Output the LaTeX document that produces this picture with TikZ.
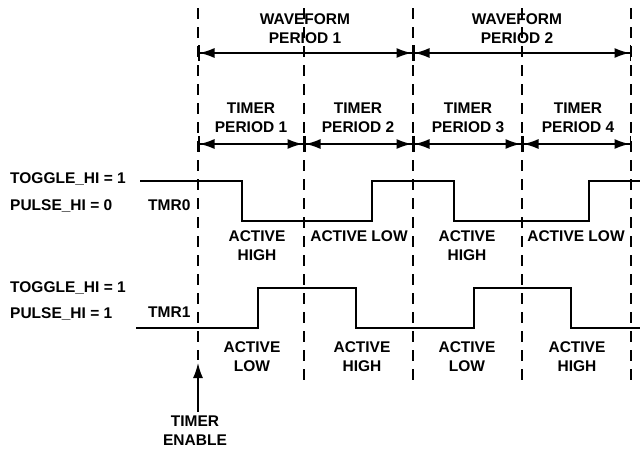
\documentclass[tikz,border=0pt]{standalone}
\usepackage{fontspec}
\setmainfont{Liberation Sans}
\usetikzlibrary{arrows.meta}
\begin{document}
\begin{tikzpicture}[x=1pt,y=-1pt,
  lbl/.style={font=\bfseries\fontsize{15.5}{19}\selectfont,inner sep=0pt,align=center,anchor=north},
  lft/.style={font=\bfseries\fontsize{15.5}{19}\selectfont,inner sep=0pt,anchor=north west},
  wave/.style={line width=1.6pt},
  guide/.style={line width=1.5pt,dash pattern=on 11pt off 8pt},
  span/.style={line width=1.5pt,{Bar[width=16pt,line width=1.5pt]Latex[length=15pt,width=10pt]}-{Latex[length=15pt,width=10pt]Bar[width=16pt,line width=1.5pt]}}]
\useasboundingbox (0,0) rectangle (640,450);
% guide coordinates
\foreach \n/\x in {a/198,b/304,c/413,d/522,e/631}{
  \coordinate (\n-top) at (\x,8);
  \coordinate (\n-w) at (\x,53);
  \coordinate (\n-t) at (\x,144);
}
\coordinate (a-bot) at (198,360);
\foreach \n/\x in {b/304,c/413,d/522,e/631}{\coordinate (\n-bot) at (\x,380);}
\foreach \n in {a,b,c,d,e}{\draw[guide] (\n-top) -- (\n-bot);}
% span arrows
\draw[span] (a-w) -- (c-w);
\draw[span] (c-w) -- (e-w);
\draw[span] (a-t) -- (b-t);
\draw[span] (b-t) -- (c-t);
\draw[span] (c-t) -- (d-t);
\draw[span] (d-t) -- (e-t);
% header labels
\node[lbl] (wp1) at (305,13) {WAVEFORM\\PERIOD 1};
\node[lbl] (wp2) at (517,13) {WAVEFORM\\PERIOD 2};
\node[lbl] (tp1) at (251,103) {TIMER\\PERIOD 1};
\node[lbl] (tp2) at (358,103) {TIMER\\PERIOD 2};
\node[lbl] (tp3) at (468,103) {TIMER\\PERIOD 3};
\node[lbl] (tp4) at (578,103) {TIMER\\PERIOD 4};
% left labels
\node[lft] (tg0) at (10,172) {TOGGLE\_HI = 1};
\node[lft] (ph0) at (10,199) {PULSE\_HI = 0};
\node[lft] (tmr0) at (148,199) {TMR0};
\node[lft] (tg1) at (10,281) {TOGGLE\_HI = 1};
\node[lft] (ph1) at (10,307) {PULSE\_HI = 1};
\node[lft] (tmr1) at (148,307) {TMR1};
% TMR0 waveform
\draw[wave] (140,181) -- (242,181) -- (242,221) -- (372,221) -- (372,181) -- (454,181) -- (454,221) -- (589,221) -- (589,181) -- (640,181);
% TMR1 waveform
\draw[wave] (136,328) -- (258,328) -- (258,288) -- (356,288) -- (356,328) -- (474,328) -- (474,288) -- (571,288) -- (571,328) -- (640,328);
% TMR0 labels
\node[lbl] (l01) at (257,230) {ACTIVE\\HIGH};
\node[lbl] (l02) at (359,230) {ACTIVE LOW};
\node[lbl] (l03) at (467,230) {ACTIVE\\HIGH};
\node[lbl] (l04) at (576,230) {ACTIVE LOW};
% TMR1 labels
\node[lbl] (l11) at (252,341) {ACTIVE\\LOW};
\node[lbl] (l12) at (362,341) {ACTIVE\\HIGH};
\node[lbl] (l13) at (467,341) {ACTIVE\\LOW};
\node[lbl] (l14) at (577,341) {ACTIVE\\HIGH};
% timer enable
\node[lbl] (en) at (195,416) {TIMER\\ENABLE};
\coordinate (enfrom) at (198,412);
\coordinate (ento) at (198,363);
\draw[line width=1.5pt,-{Latex[length=15pt,width=10pt]}] (enfrom) -- (ento);
\end{tikzpicture}
\end{document}
